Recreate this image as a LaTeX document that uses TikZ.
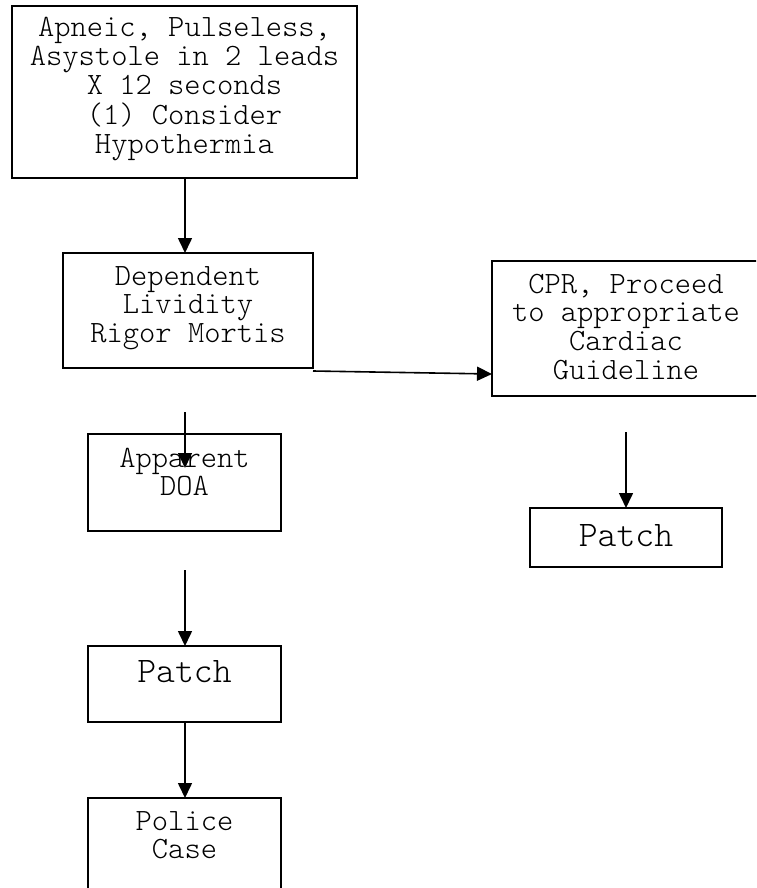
\documentclass[tikz,border=0pt]{standalone}
\usepackage{fontspec}
\usetikzlibrary{arrows.meta,calc}
\newcommand{\mytab}[1]{\begin{tabular}[t]{@{}c@{}}#1\end{tabular}}
\begin{document}
\begin{tikzpicture}[x=1pt,y=-1pt,
  box/.style={draw, rectangle, line width=1.6pt, inner sep=0pt, outer sep=0pt},
  txt/.style={anchor=base, inner sep=0pt, font=\ttfamily\fontseries{l}\fontsize{31}{28.7}\selectfont},
  bigtxt/.style={anchor=base, inner sep=0pt, font=\ttfamily\fontseries{l}\fontsize{36}{34}\selectfont},
  arr/.style={-{Triangle[length=15pt,width=14pt]}, line width=1.6pt}]
\useasboundingbox (0,0) rectangle (756,888);
\clip (0,0) rectangle (756,888);

% boxes
\node[box, minimum width=345pt, minimum height=172pt] (start) at (184.5,92) {};
\node[box, minimum width=250pt, minimum height=115pt] (dep) at (188,310.5) {};
\node[box, minimum width=268pt, minimum height=135pt] (cpr) at (626,328.5) {};
\node[box, minimum width=193pt, minimum height=97pt] (doa) at (184.5,482.5) {};
\node[box, minimum width=193pt, minimum height=76pt] (patchl) at (184.5,684) {};
\node[box, minimum width=193pt, minimum height=104pt] (police) at (184.5,850) {};
\node[box, minimum width=192pt, minimum height=59pt] (patchr) at (626,537.5) {};

% texts
\node[txt] (tstart) at (184.5,37) {\mytab{Apneic, Pulseless,\\Asystole in 2 leads\\X 12 seconds\\(1) Consider\\Hypothermia}};
\node[txt] (tdep) at (188,285) {\mytab{Dependent\\Lividity\\Rigor Mortis}};
\node[txt] (tcpr) at (626,293) {\mytab{CPR, Proceed\\to appropriate\\Cardiac\\Guideline}};
\node[txt] (tdoa) at (184.5,467) {\mytab{Apparent\\DOA}};
\node[bigtxt] (tpatchl) at (184.5,682) {Patch};
\node[txt] (tpolice) at (184.5,830) {\mytab{Police\\Case}};
\node[bigtxt] (tpatchr) at (626,546) {Patch};

% connectors
\coordinate (d2cs) at (313,371);
\coordinate (d2ce) at (0,374);
\draw[arr] (start.south -| 185,0) -- (dep.north -| 185,0);
\draw[arr] (d2cs) -- (cpr.west |- d2ce);
\coordinate (dds) at (185,412);
\coordinate (dde) at (185,468);
\draw[arr] (dds) -- (dde);
\coordinate (dps) at (185,570);
\draw[arr] (dps) -- (dps |- patchl.north);
\draw[arr] (patchl.south -| dps) -- (police.north -| dps);
\coordinate (cps) at (626,432);
\draw[arr] (cps) -- (patchr.north);
\end{tikzpicture}
\end{document}
